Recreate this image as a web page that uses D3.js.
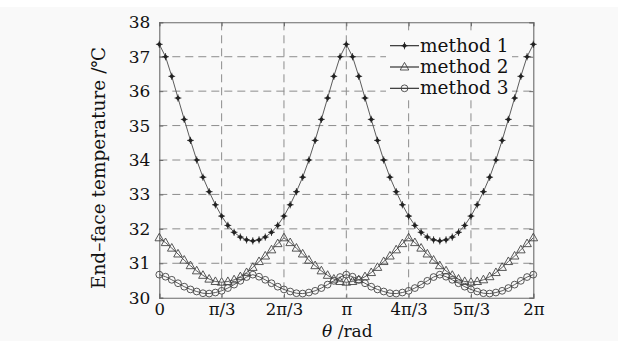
<!DOCTYPE html>
<html>
<head>
<meta charset="utf-8">
<script src="https://cdn.jsdelivr.net/npm/d3@7"></script>
<style>
  html, body { margin: 0; padding: 0; background: #f9f9f9; }
  svg { display: block; font-family: "DejaVu Serif", serif; }
</style>
</head>
<body>
<svg id="chart" width="618" height="341"></svg>
<script>
// sample angles, degrees
const angleDeg = [
    0, 6, 12, 18, 24, 30, 36, 42, 48, 54, 60, 66, 72, 78, 84, 90, 96, 102, 108, 114,
    120, 126, 132, 138, 144, 150, 156, 162, 168, 174, 180, 186, 192, 198, 204, 210, 216, 222, 228, 234,
    240, 246, 252, 258, 264, 270, 276, 282, 288, 294, 300, 306, 312, 318, 324, 330, 336, 342, 348, 354, 360
];

const method1 = [
    37.36, 37.00, 36.43, 35.80, 35.18, 34.57, 34.00, 33.50, 33.08, 32.70, 32.37, 32.10, 31.90, 31.76, 31.68,
    31.65, 31.68, 31.76, 31.90, 32.10, 32.37, 32.70, 33.08, 33.50, 34.00, 34.57, 35.18, 35.80, 36.43, 37.00,
    37.36, 37.00, 36.43, 35.80, 35.18, 34.57, 34.00, 33.50, 33.08, 32.70, 32.37, 32.10, 31.90, 31.76, 31.68,
    31.65, 31.68, 31.76, 31.90, 32.10, 32.37, 32.70, 33.08, 33.50, 34.00, 34.57, 35.18, 35.80, 36.43, 37.00,
    37.36
];

const method2 = [
    31.74, 31.60, 31.44, 31.27, 31.09, 30.93, 30.78, 30.65, 30.54, 30.47, 30.45, 30.47, 30.52, 30.61, 30.73,
    30.88, 31.05, 31.21, 31.39, 31.57, 31.74, 31.60, 31.44, 31.27, 31.09, 30.93, 30.78, 30.65, 30.54, 30.47,
    30.45, 30.47, 30.52, 30.61, 30.73, 30.88, 31.05, 31.21, 31.39, 31.57, 31.74, 31.60, 31.44, 31.27, 31.09,
    30.93, 30.78, 30.65, 30.54, 30.47, 30.45, 30.47, 30.52, 30.61, 30.73, 30.88, 31.05, 31.21, 31.39, 31.57,
    31.74
];

const method3 = [
    30.67, 30.61, 30.52, 30.42, 30.32, 30.24, 30.18, 30.13, 30.12, 30.15, 30.20, 30.28, 30.38, 30.49, 30.60,
    30.67, 30.61, 30.52, 30.42, 30.32, 30.24, 30.18, 30.13, 30.12, 30.15, 30.20, 30.28, 30.38, 30.49, 30.60,
    30.67, 30.61, 30.52, 30.42, 30.32, 30.24, 30.18, 30.13, 30.12, 30.15, 30.20, 30.28, 30.38, 30.49, 30.60,
    30.67, 30.61, 30.52, 30.42, 30.32, 30.24, 30.18, 30.13, 30.12, 30.15, 30.20, 30.28, 30.38, 30.49, 30.60,
    30.67
];

const seriesNames = ['method 1', 'method 2', 'method 3'];
const seriesMarkers = ['star', 'triangle', 'circle'];

const xTickDeg = [0, 60, 120, 180, 240, 300, 360];
const xTickLabels = ['0', 'π/3', '2π/3', 'π', '4π/3', '5π/3', '2π'];
const yTicks = [30, 31, 32, 33, 34, 35, 36, 37, 38];

const svg = d3.select('#chart');
const W = 618, H = 341;
const plot = { left: 159.3, right: 533.3, top: 22.3, bottom: 297.7 };

const x = d3.scaleLinear().domain([0, 360]).range([plot.left, plot.right]);
const y = d3.scaleLinear().domain([30, 38]).range([plot.bottom, plot.top]);

// scan background: thin white strip at the top
svg.append('rect').attr('x', 0).attr('y', 0).attr('width', W).attr('height', 7).attr('fill', '#ffffff');

// grid
const grid = svg.append('g').attr('stroke', '#8c8c8c').attr('stroke-width', 1).attr('stroke-dasharray', '8,5');
grid.selectAll('.gx').data(xTickDeg.slice(1, -1)).join('line')
    .attr('x1', d => x(d)).attr('x2', d => x(d))
    .attr('y1', plot.top).attr('y2', plot.bottom);
grid.selectAll('.gy').data(yTicks.slice(1, -1)).join('line')
    .attr('x1', plot.left).attr('x2', plot.right)
    .attr('y1', d => y(d)).attr('y2', d => y(d));

// axes
const fmtX = d => xTickLabels[xTickDeg.indexOf(d)];
const axB = svg.append('g').attr('transform', 'translate(0,' + plot.bottom + ')')
    .call(d3.axisBottom(x).tickValues(xTickDeg).tickFormat(fmtX).tickSize(-4).tickPadding(5));
const axT = svg.append('g').attr('transform', 'translate(0,' + plot.top + ')')
    .call(d3.axisTop(x).tickValues(xTickDeg).tickFormat('').tickSize(-4));
const axL = svg.append('g').attr('transform', 'translate(' + plot.left + ',0)')
    .call(d3.axisLeft(y).tickValues(yTicks).tickSize(-4).tickPadding(9));
const axR = svg.append('g').attr('transform', 'translate(' + plot.right + ',0)')
    .call(d3.axisRight(y).tickValues(yTicks).tickFormat('').tickSize(-4));

[axB, axT, axL, axR].forEach(function (a) {
    a.select('.domain').attr('stroke', '#6a6a6a').attr('stroke-width', 1.1);
    a.selectAll('.tick line').attr('stroke', '#6a6a6a');
    a.selectAll('.tick text').attr('fill', '#111').attr('font-size', 17)
        .attr('font-family', '"DejaVu Serif", serif');
});
axB.selectAll('.tick text').attr('font-size', 16.5).attr('dy', '0.75em');

// axis titles
const xTitle = svg.append('text')
    .attr('x', (plot.left + plot.right) / 2 + 1).attr('y', 336.8)
    .attr('text-anchor', 'middle').attr('font-size', 17).attr('fill', '#111');
xTitle.append('tspan').attr('font-style', 'italic').text('θ');
xTitle.append('tspan').text(' /rad');

svg.append('text')
    .attr('transform', 'translate(105,168) rotate(-90)')
    .attr('text-anchor', 'middle').attr('font-size', 18.5).attr('fill', '#111')
    .text('End–face temperature /℃');

// curves
const lineColor = '#4a4a4a';
const allSeries = [method1, method2, method3];

function drawMarker(sel, kind) {
    if (kind === 'star') {
        sel.append('path')
            .attr('d', 'M0,-3.6L0,3.6M-3.4,0L3.4,0')
            .attr('stroke', '#333').attr('stroke-width', 0.9);
        sel.append('path')
            .attr('d', 'M0,-2.6L2.6,0L0,2.6L-2.6,0Z')
            .attr('fill', '#222');
    } else if (kind === 'triangle') {
        sel.append('path')
            .attr('d', 'M0,-4.6L4.3,3L-4.3,3Z')
            .attr('fill', 'none').attr('stroke', '#444').attr('stroke-width', 0.9);
    } else {
        sel.append('circle').attr('r', 3.4)
            .attr('fill', 'none').attr('stroke', '#444').attr('stroke-width', 0.9);
    }
}

const lineGen = d3.line().x(d => x(d[0])).y(d => y(d[1]));

allSeries.forEach(function (vals, i) {
    const pts = angleDeg.map((a, k) => [a, vals[k]]);
    const g = svg.append('g');
    g.append('path').datum(pts).attr('d', lineGen)
        .attr('fill', 'none').attr('stroke', lineColor).attr('stroke-width', 0.9);
    g.selectAll('g.m').data(pts).join('g')
        .attr('transform', d => 'translate(' + x(d[0]) + ',' + y(d[1]) + ')')
        .each(function () { drawMarker(d3.select(this), seriesMarkers[i]); });
});

// legend
const leg = svg.append('g');
leg.append('rect').attr('x', 386).attr('y', 33).attr('width', 126).attr('height', 65).attr('fill', '#f9f9f9');
seriesNames.forEach(function (name, i) {
    const by = 51.7 + i * 21.3;
    const ly = by - 6;
    leg.append('line').attr('x1', 390).attr('x2', 419).attr('y1', ly).attr('y2', ly)
        .attr('stroke', '#222').attr('stroke-width', 1.1);
    const m = leg.append('g').attr('transform', 'translate(404.5,' + ly + ')');
    drawMarker(m, seriesMarkers[i]);
    leg.append('text').attr('x', 420).attr('y', by).attr('font-size', 18.5).attr('fill', '#111').text(name);
});
</script>
</body>
</html>
